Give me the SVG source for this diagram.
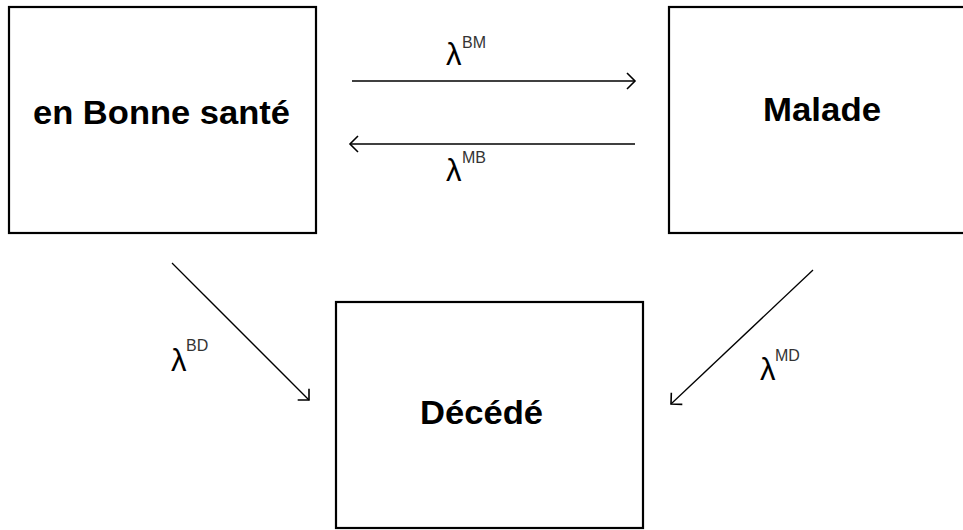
<svg xmlns="http://www.w3.org/2000/svg" width="963" height="530" viewBox="0 0 963 530">
<style>
.box{fill:#fff;stroke:#000;stroke-width:2.2}
.lbl{font-family:"Liberation Sans",Arial,sans-serif;font-weight:bold;font-size:33px;fill:#000}
.lam{font-family:"Liberation Sans",Arial,sans-serif;font-size:31px;fill:#000}
.sup{font-family:"Liberation Sans",Arial,sans-serif;font-size:16px;fill:#333}
.edge{stroke:#000;stroke-width:1.3;fill:none}
</style>
<defs>
<marker id="ah" markerUnits="userSpaceOnUse" markerWidth="20" markerHeight="20" refX="10" refY="10" orient="auto">
<path d="M2,2 L10,10 L2,18" fill="none" stroke="#000" stroke-width="1.6"/>
</marker>
</defs>
<rect width="963" height="530" fill="#fff"/>
<g id="node-bonne">
<rect class="box" x="9" y="7" width="307" height="226"/>
<text class="lbl" x="33" y="124" textLength="257" lengthAdjust="spacingAndGlyphs">en Bonne santé</text>
</g>
<g id="node-malade">
<rect class="box" x="669" y="7" width="300" height="226"/>
<text class="lbl" x="763" y="121" textLength="118" lengthAdjust="spacingAndGlyphs">Malade</text>
</g>
<g id="node-decede">
<rect class="box" x="336" y="302" width="307" height="226"/>
<text class="lbl" x="420" y="424" textLength="123" lengthAdjust="spacingAndGlyphs">Décédé</text>
</g>
<g id="connectors">
<line class="edge" x1="352" y1="81" x2="635" y2="81" marker-end="url(#ah)"/>
<line class="edge" x1="635" y1="144" x2="350" y2="144" marker-end="url(#ah)"/>
<line class="edge" x1="172" y1="263" x2="309" y2="400" marker-end="url(#ah)"/>
<line class="edge" x1="813" y1="270" x2="671" y2="404" marker-end="url(#ah)"/>
<text class="lam" x="446" y="65">λ</text><text class="sup" x="462" y="48">BM</text>
<text class="lam" x="446" y="181">λ</text><text class="sup" x="462" y="163">MB</text>
<text class="lam" x="171" y="371">λ</text><text class="sup" x="186" y="351">BD</text>
<text class="lam" x="760" y="380">λ</text><text class="sup" x="775" y="361">MD</text>
</g>
</svg>
